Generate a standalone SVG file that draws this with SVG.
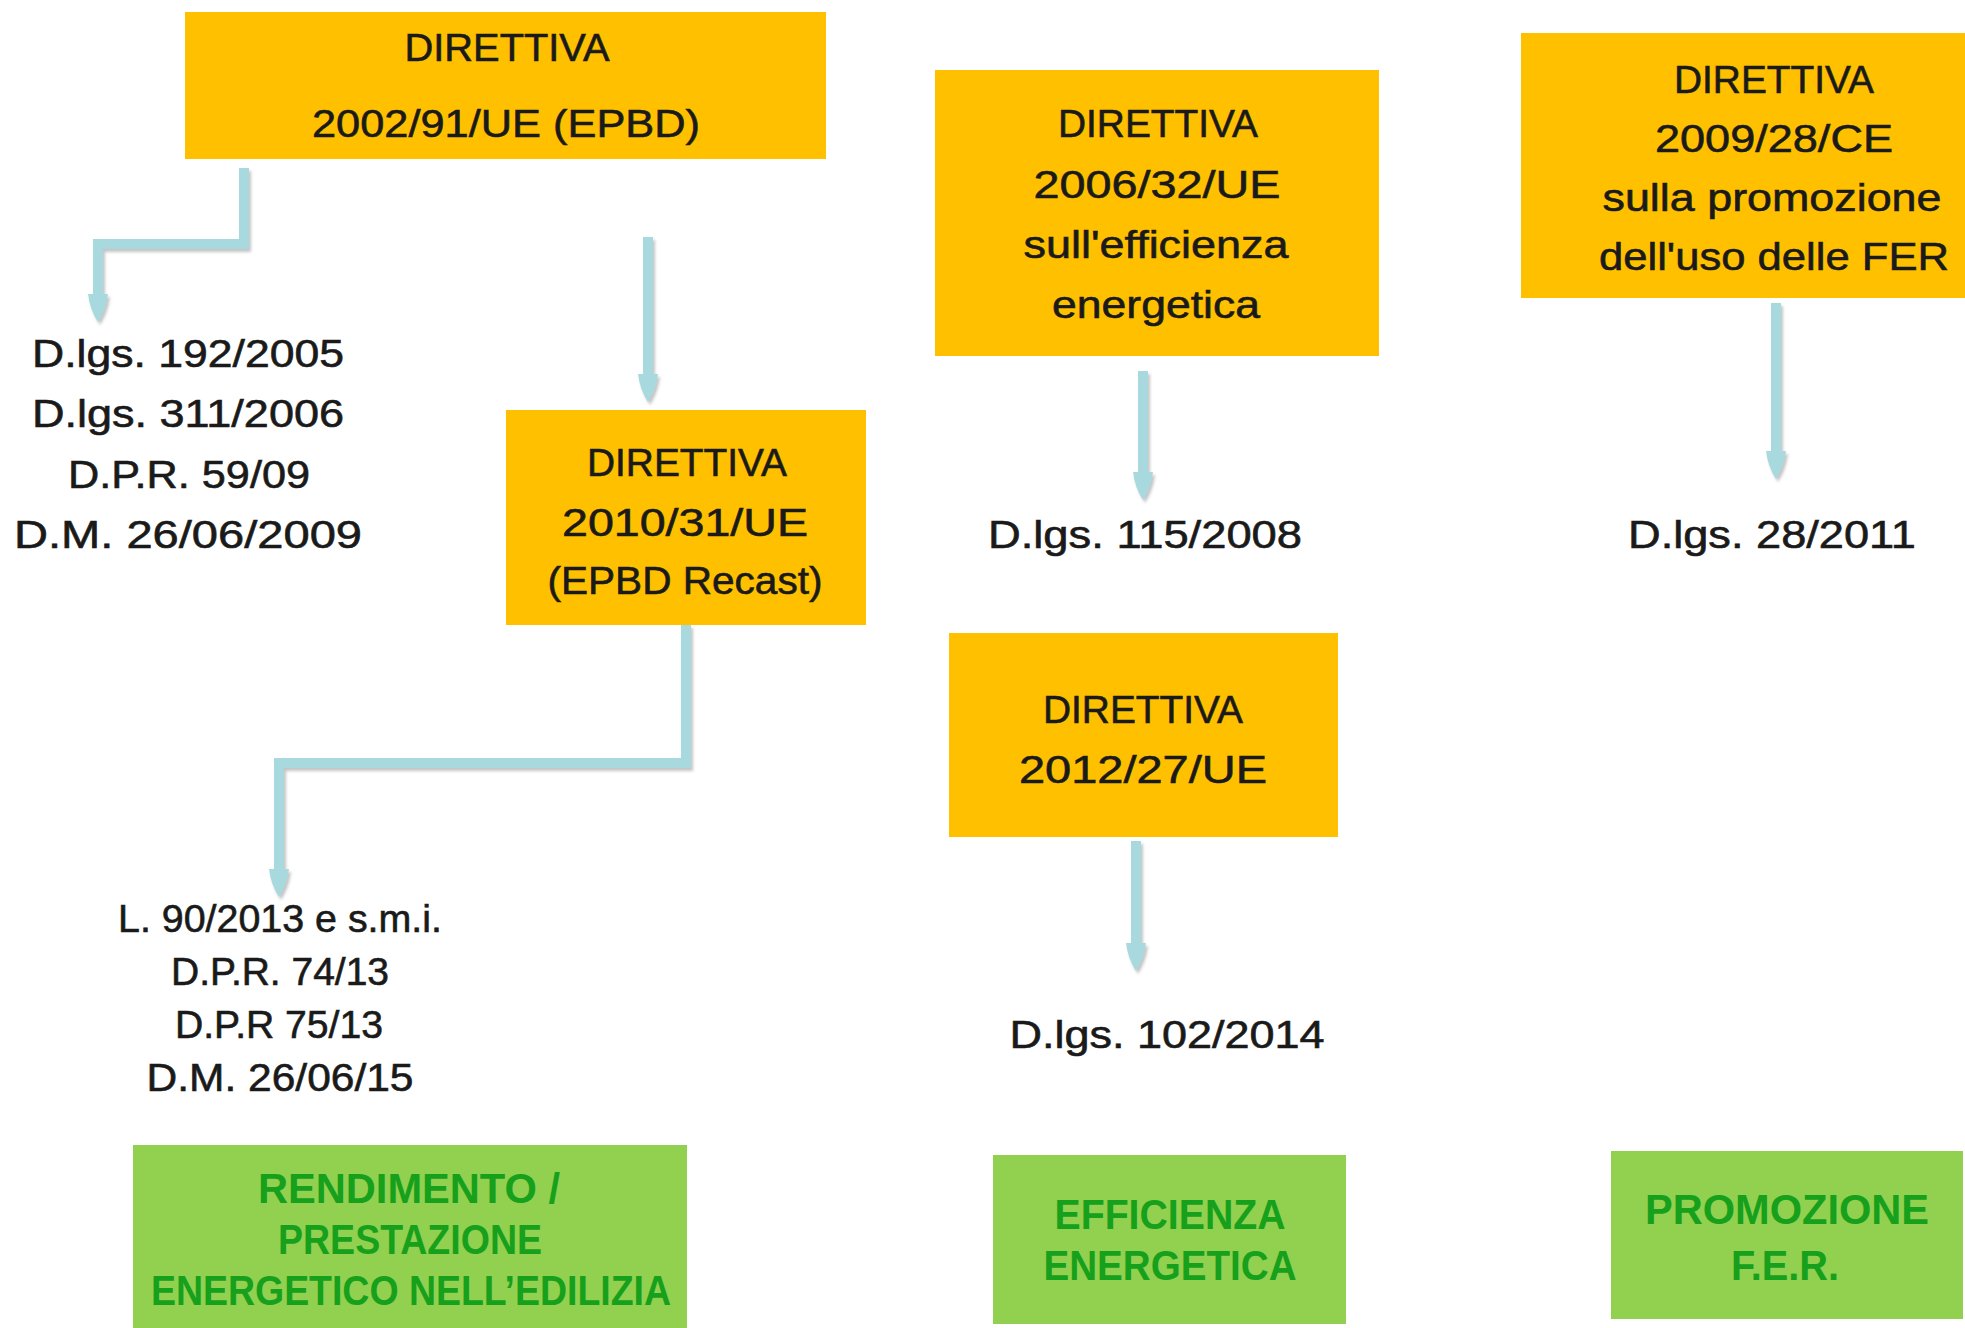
<svg xmlns="http://www.w3.org/2000/svg" width="1965" height="1328" viewBox="0 0 1965 1328">
<defs>
<style>
.dir{fill:#FFC000}
.res{fill:#92D050}
.t{font-family:"Liberation Sans",Arial,sans-serif;font-size:38px;fill:#1a1a1a;stroke:#1a1a1a;stroke-width:0.6;text-anchor:middle}
.g{font-family:"Liberation Sans",Arial,sans-serif;font-size:43px;font-weight:bold;fill:#16A01C;text-anchor:middle}
.c{fill:none;stroke:#A8D9DE;stroke-width:10;stroke-linejoin:miter}
</style>
<marker id="ah" viewBox="0 -11 30 22" refX="0" refY="0" markerWidth="30" markerHeight="22" markerUnits="userSpaceOnUse" orient="auto">
<path d="M0,-10 Q16,-8 28,0 Q16,8 0,10 Z" fill="#A8D9DE"/>
</marker>
<filter id="sh" x="-20%" y="-20%" width="140%" height="140%">
<feDropShadow dx="2" dy="3" stdDeviation="1.5" flood-color="#7a7a7a" flood-opacity="0.45"/>
</filter>
</defs>
<rect width="1965" height="1328" fill="#ffffff"/>

<g id="connectors" filter="url(#sh)">
<path class="c" d="M244,168 V244 H98 V294" marker-end="url(#ah)"/>
<path class="c" d="M648,237 V374" marker-end="url(#ah)"/>
<path class="c" d="M686,625 V763 H279 V869" marker-end="url(#ah)"/>
<path class="c" d="M1143,371 V472" marker-end="url(#ah)"/>
<path class="c" d="M1776,303 V451" marker-end="url(#ah)"/>
<path class="c" d="M1136,841 V943" marker-end="url(#ah)"/>
</g>

<g id="dir2002">
<rect class="dir" x="185" y="12" width="641" height="147"/>
<text class="t" x="507" y="61" textLength="205" lengthAdjust="spacingAndGlyphs">DIRETTIVA</text>
<text class="t" x="506" y="137" textLength="388" lengthAdjust="spacingAndGlyphs">2002/91/UE (EPBD)</text>
</g>

<g id="dir2006">
<rect class="dir" x="935" y="70" width="444" height="286"/>
<text class="t" x="1158" y="137" textLength="200" lengthAdjust="spacingAndGlyphs">DIRETTIVA</text>
<text class="t" x="1157" y="198" textLength="247" lengthAdjust="spacingAndGlyphs">2006/32/UE</text>
<text class="t" x="1156" y="258" textLength="265" lengthAdjust="spacingAndGlyphs">sull'efficienza</text>
<text class="t" x="1156" y="318" textLength="208" lengthAdjust="spacingAndGlyphs">energetica</text>
</g>

<g id="dir2009">
<rect class="dir" x="1521" y="33" width="460" height="265"/>
<text class="t" x="1774" y="93" textLength="200" lengthAdjust="spacingAndGlyphs">DIRETTIVA</text>
<text class="t" x="1774" y="152" textLength="238" lengthAdjust="spacingAndGlyphs">2009/28/CE</text>
<text class="t" x="1772" y="211" textLength="339" lengthAdjust="spacingAndGlyphs">sulla promozione</text>
<text class="t" x="1774" y="270" textLength="350" lengthAdjust="spacingAndGlyphs">dell'uso delle FER</text>
</g>

<g id="dir2010">
<rect class="dir" x="506" y="410" width="360" height="215"/>
<text class="t" x="687" y="476" textLength="200" lengthAdjust="spacingAndGlyphs">DIRETTIVA</text>
<text class="t" x="685" y="536" textLength="246" lengthAdjust="spacingAndGlyphs">2010/31/UE</text>
<text class="t" x="685" y="594" textLength="275" lengthAdjust="spacingAndGlyphs">(EPBD Recast)</text>
</g>

<g id="dir2012">
<rect class="dir" x="949" y="633" width="389" height="204"/>
<text class="t" x="1143" y="723" textLength="200" lengthAdjust="spacingAndGlyphs">DIRETTIVA</text>
<text class="t" x="1143" y="783" textLength="248" lengthAdjust="spacingAndGlyphs">2012/27/UE</text>
</g>

<g id="leggi2002">
<text class="t" x="188" y="367" textLength="312" lengthAdjust="spacingAndGlyphs">D.lgs. 192/2005</text>
<text class="t" x="188" y="427" textLength="312" lengthAdjust="spacingAndGlyphs">D.lgs. 311/2006</text>
<text class="t" x="189" y="488" textLength="242" lengthAdjust="spacingAndGlyphs">D.P.R. 59/09</text>
<text class="t" x="188" y="548" textLength="348" lengthAdjust="spacingAndGlyphs">D.M. 26/06/2009</text>
</g>

<g id="leggi2006">
<text class="t" x="1145" y="548" textLength="314" lengthAdjust="spacingAndGlyphs">D.lgs. 115/2008</text>
</g>

<g id="leggi2009">
<text class="t" x="1772" y="548" textLength="288" lengthAdjust="spacingAndGlyphs">D.lgs. 28/2011</text>
</g>

<g id="leggi2010">
<text class="t" x="280" y="932" textLength="324" lengthAdjust="spacingAndGlyphs">L. 90/2013 e s.m.i.</text>
<text class="t" x="280" y="985" textLength="218" lengthAdjust="spacingAndGlyphs">D.P.R. 74/13</text>
<text class="t" x="279" y="1038" textLength="208" lengthAdjust="spacingAndGlyphs">D.P.R 75/13</text>
<text class="t" x="280" y="1091" textLength="267" lengthAdjust="spacingAndGlyphs">D.M. 26/06/15</text>
</g>

<g id="leggi2012">
<text class="t" x="1167" y="1048" textLength="315" lengthAdjust="spacingAndGlyphs">D.lgs. 102/2014</text>
</g>

<g id="rendimento">
<rect class="res" x="133" y="1145" width="554" height="200"/>
<text class="g" x="409" y="1203" textLength="302" lengthAdjust="spacingAndGlyphs">RENDIMENTO /</text>
<text class="g" x="410" y="1254" textLength="264" lengthAdjust="spacingAndGlyphs">PRESTAZIONE</text>
<text class="g" x="411" y="1305" textLength="520" lengthAdjust="spacingAndGlyphs">ENERGETICO NELL’EDILIZIA</text>
</g>

<g id="efficienza">
<rect class="res" x="993" y="1155" width="353" height="169"/>
<text class="g" x="1170" y="1229" textLength="231" lengthAdjust="spacingAndGlyphs">EFFICIENZA</text>
<text class="g" x="1170" y="1280" textLength="253" lengthAdjust="spacingAndGlyphs">ENERGETICA</text>
</g>

<g id="promozione">
<rect class="res" x="1611" y="1151" width="352" height="168"/>
<text class="g" x="1787" y="1224" textLength="284" lengthAdjust="spacingAndGlyphs">PROMOZIONE</text>
<text class="g" x="1785" y="1280" textLength="108" lengthAdjust="spacingAndGlyphs">F.E.R.</text>
</g>
</svg>
